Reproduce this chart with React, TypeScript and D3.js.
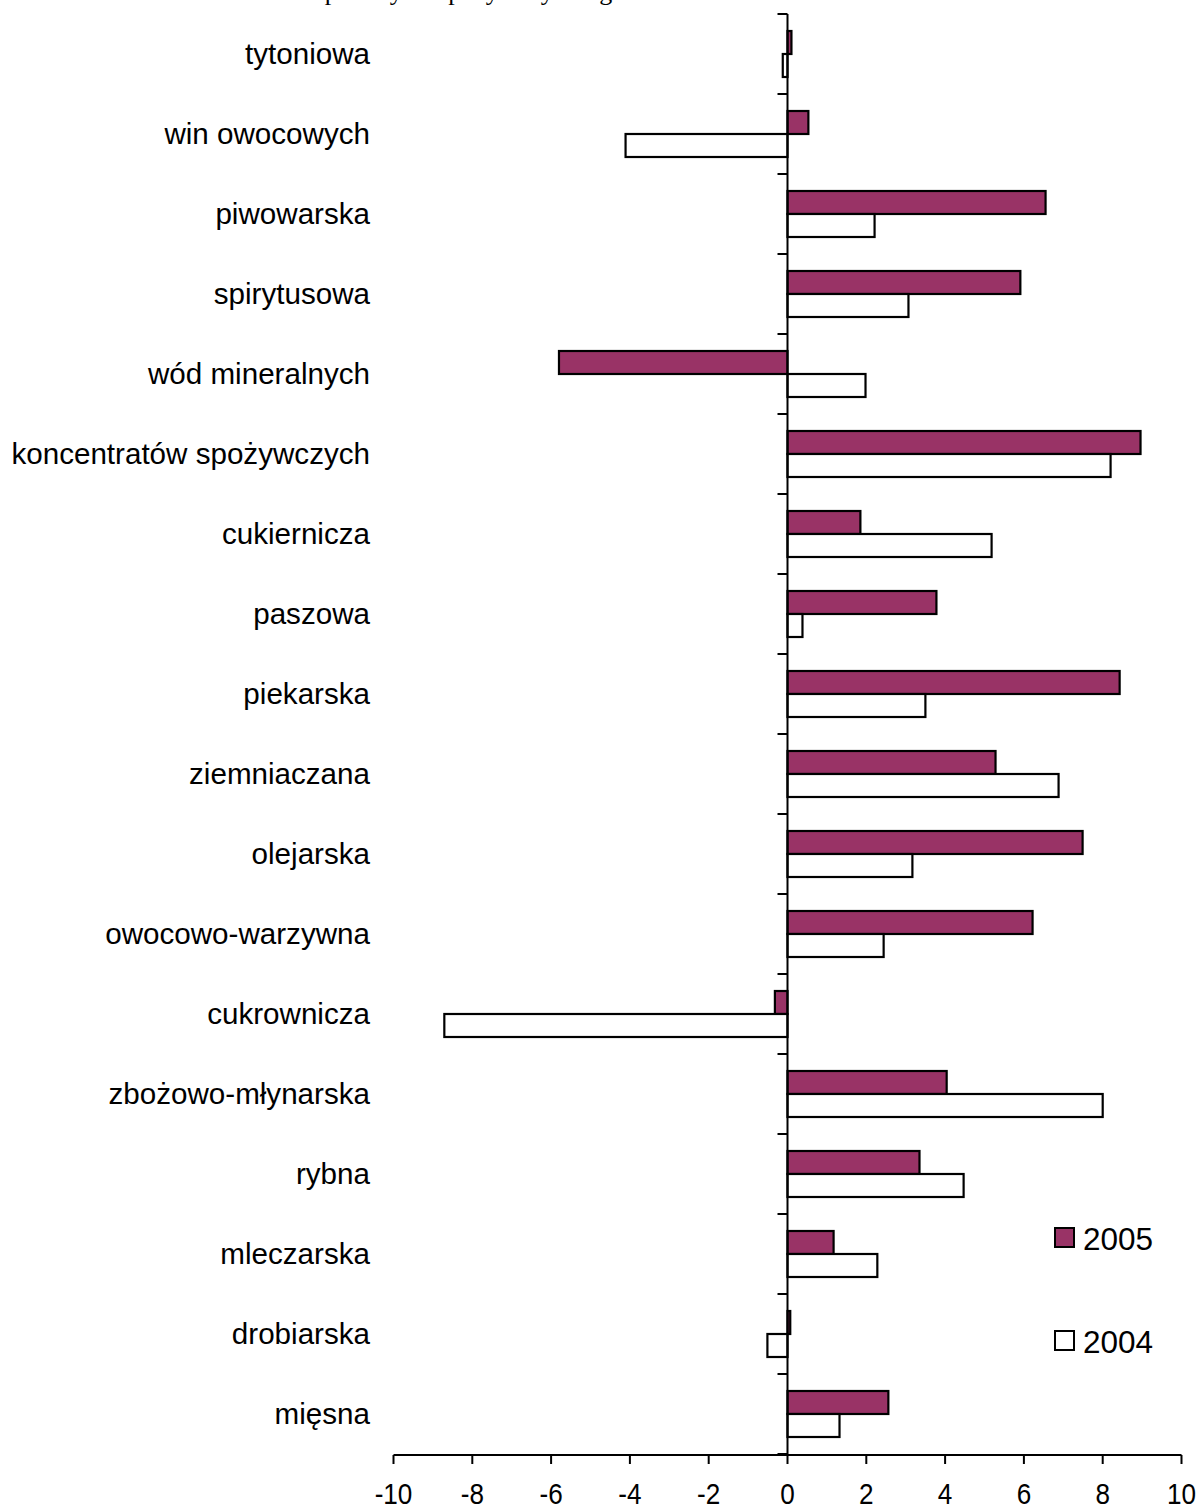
import React from "react";
import * as d3 from "d3";

const categories = [
  "tytoniowa",
  "win owocowych",
  "piwowarska",
  "spirytusowa",
  "wód mineralnych",
  "koncentratów spożywczych",
  "cukiernicza",
  "paszowa",
  "piekarska",
  "ziemniaczana",
  "olejarska",
  "owocowo-warzywna",
  "cukrownicza",
  "zbożowo-młynarska",
  "rybna",
  "mleczarska",
  "drobiarska",
  "mięsna",
];

const values2005 = [0.1, 0.53, 6.55, 5.91, -5.8, 8.96, 1.85, 3.78, 8.43, 5.28, 7.49, 6.22, -0.32, 4.04, 3.35, 1.17, 0.07, 2.56];
const values2004 = [-0.12, -4.11, 2.21, 3.07, 1.98, 8.2, 5.18, 0.38, 3.5, 6.88, 3.17, 2.44, -8.71, 8.0, 4.47, 2.28, -0.51, 1.32];

const xTicks = [-10, -8, -6, -4, -2, 0, 2, 4, 6, 8, 10];
const seriesNames = ["2005", "2004"];
const titleText = "Rentowność netto w przemyśle spożywczym wg branż";

const W = 1200;
const H = 1506;
const PLUM = "#993366";

export default function App() {
  const x = d3.scaleLinear().domain([-10, 10]).range([393.5, 1181.5]);
  const y = d3.scaleBand<string>().domain(categories).range([14, 1454]);
  const barH = 23;
  const x0 = x(0);
  const axisY = 1455;
  const sans = "'Liberation Sans', Arial, sans-serif";

  const bar = (v: number, yTop: number, fill: string, key: string) => {
    const a = x(Math.min(0, v));
    const b = x(Math.max(0, v));
    return (
      <rect key={key} x={a} y={yTop} width={Math.max(b - a, 0.5)} height={barH}
        fill={fill} stroke="#000" strokeWidth={2.2} />
    );
  };

  const boundaries = d3.range(categories.length + 1).map((i) => 14 + i * y.bandwidth());

  return (
    <svg width={W} height={H} style={{ position: "absolute", left: 0, top: 0, background: "#fff" }}>
      <rect x={0} y={0} width={W} height={H} fill="#fff" />
      <text x={106} y={0} fontFamily="'Liberation Serif', 'Times New Roman', serif" fontSize={26} fill="#000">
        {titleText}
      </text>

      {categories.map((c, i) => {
        const yc = (y(c) as number) + y.bandwidth() / 2;
        return (
          <g key={c}>
            <text x={370} y={yc} dy="0.35em" textAnchor="end" fontFamily={sans} fontSize={29.6} fill="#000">
              {c}
            </text>
            {bar(values2005[i], yc - barH, PLUM, "a")}
            {bar(values2004[i], yc, "#fff", "b")}
          </g>
        );
      })}

      {/* y axis */}
      <line x1={x0} x2={x0} y1={14} y2={axisY} stroke="#000" strokeWidth={2} />
      {boundaries.map((b, i) => (
        <line key={i} x1={x0 - 10} x2={x0} y1={b} y2={b} stroke="#000" strokeWidth={2} />
      ))}

      {/* x axis */}
      <line x1={x(-10)} x2={x(10)} y1={axisY} y2={axisY} stroke="#000" strokeWidth={2} />
      {xTicks.map((t) => (
        <g key={t}>
          <line x1={x(t)} x2={x(t)} y1={axisY} y2={axisY + 9} stroke="#000" strokeWidth={2} />
          <text transform={`translate(${x(t)},1504) scale(0.87,1)`} textAnchor="middle"
            fontFamily={sans} fontSize={30} fill="#000">
            {t}
          </text>
        </g>
      ))}

      {/* legend */}
      {seriesNames.map((s, i) => {
        const top = i === 0 ? 1228 : 1331;
        return (
          <g key={s}>
            <rect x={1055} y={top} width={19} height={19} fill={i === 0 ? PLUM : "#fff"} stroke="#000" strokeWidth={2} />
            <text x={1083} y={top + 22} fontFamily={sans} fontSize={31.5} fill="#000">
              {s}
            </text>
          </g>
        );
      })}
    </svg>
  );
}
